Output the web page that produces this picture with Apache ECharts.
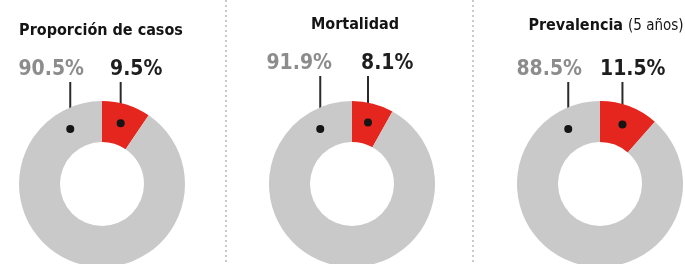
<!DOCTYPE html>
<html>
<head>
<meta charset="utf-8">
<script src="https://cdn.jsdelivr.net/npm/echarts@6/dist/echarts.min.js"></script>
<style>
html,body{margin:0;padding:0;background:#fff;}
#c{width:685px;height:264px;}
</style>
</head>
<body>
<div id="c"></div>
<script>
// ---- data ----
const titles = ['Proporción de casos', 'Mortalidad', 'Prevalencia'];
const titleNotes = ['', '', '(5 años)'];
const categories = ['Afectados', 'Resto'];
const redValues = [9.5, 8.1, 11.5];
const grayValues = [90.5, 91.9, 88.5];

// ---- layout / style ----
const W = 685, H = 264;
const centersX = [102, 352, 600];
const centerY = 184;
const rIn = 42, rOut = 83;
const titleX = [96, 350, 601];
const titleY = [29, 23, 23];
const labelY = [70, 64, 70];
const redLabelDx = [8, 9, 0];
const grayLabelDx = [-18, -20, -18];
const RED = '#e5261f', GRAY = '#c9c9c9';
const GRAY_TXT = '#8c8c8c', DARK_TXT = '#1e1e1e';
const NUM_FONT = '"DejaVu Sans Condensed", "DejaVu Sans", sans-serif';
const TTL_FONT = '"DejaVu Sans Condensed", "Liberation Sans Narrow", sans-serif';

function dotPos(i, dataIndex) {
  const total = redValues[i] + grayValues[i];
  let ang; // degrees clockwise from 12 o'clock
  if (dataIndex === 0) ang = (redValues[i] / total * 360) / 2;
  else ang = -30;
  const rm = (rIn + rOut) / 2 + 1;
  const a = ang * Math.PI / 180;
  return [centersX[i] + rm * Math.sin(a), centerY - rm * Math.cos(a)];
}

const series = [];
const title = [];
titles.forEach((t, i) => {
  const data = [
    { name: categories[0], value: redValues[i], itemStyle: { color: RED } },
    { name: categories[1], value: grayValues[i], itemStyle: { color: GRAY }, label: { color: GRAY_TXT } }
  ];
  series.push({
    type: 'pie',
    center: [centersX[i], centerY],
    radius: [rIn, rOut],
    startAngle: 90,
    clockwise: true,
    silent: true,
    avoidLabelOverlap: false,
    emphasis: { disabled: true },
    animation: false,
    data: data,
    label: {
      show: true,
      position: 'outside',
      alignTo: 'none',
      overflow: 'none',
      formatter: p => p.value.toFixed(1) + '%',
      fontFamily: NUM_FONT,
      fontWeight: 'bold',
      fontSize: 21,
      color: DARK_TXT
    },
    labelLine: { show: true, lineStyle: { color: '#2a2a2a', width: 2 } },
    labelLayout: function (p) {
      const d = dotPos(i, p.dataIndex);
      const x = p.dataIndex === 0 ? centersX[i] + redLabelDx[i] : centersX[i] + grayLabelDx[i];
      return {
        x: x,
        y: labelY[i],
        align: p.dataIndex === 0 ? 'left' : 'right',
        verticalAlign: 'middle',
        hideOverlap: false,
        moveOverlap: null,
        labelLinePoints: [[d[0], labelY[i] + 12], [d[0], (labelY[i] + 12 + d[1]) / 2], [d[0], d[1]]]
      };
    }
  });
  // dots at the end of the leader lines
  series.push({
    type: 'pie',
    center: [centersX[i], centerY],
    radius: [rIn, rOut],
    startAngle: 90,
    clockwise: true,
    silent: true,
    avoidLabelOverlap: false,
    emphasis: { disabled: true },
    animation: false,
    z: 5,
    data: [
      { name: categories[0], value: redValues[i] },
      { name: categories[1], value: grayValues[i] }
    ],
    itemStyle: { color: 'rgba(0,0,0,0)' },
    label: {
      show: true,
      position: 'inside',
      formatter: '{d|}',
      rich: { d: { width: 8, height: 8, borderRadius: 4, backgroundColor: '#151515' } }
    },
    labelLine: { show: false },
    labelLayout: function (p) {
      const d = dotPos(i, p.dataIndex);
      return { x: d[0], y: d[1], align: 'center', verticalAlign: 'middle', hideOverlap: false };
    }
  });
  title.push({
    text: titleNotes[i] ? '{b|' + t + '} {n|' + titleNotes[i] + '}' : '{b|' + t + '}',
    left: titleX[i],
    top: titleY[i] - 11,
    textAlign: 'center',
    textStyle: {
      rich: {
        b: { fontFamily: TTL_FONT, fontWeight: 'bold', fontSize: 16, color: '#141414' },
        n: { fontFamily: TTL_FONT, fontWeight: 'normal', fontSize: 15, color: '#141414' }
      }
    }
  });
});

const sepX = [226, 473];
const graphic = sepX.map(x => ({
  type: 'line',
  shape: { x1: x, y1: 0, x2: x, y2: H },
  style: { stroke: '#b9b9b9', lineWidth: 1.5, lineDash: [2, 3] },
  silent: true
}));

const chart = echarts.init(document.getElementById('c'), null, { renderer: 'canvas' });
chart.setOption({
  backgroundColor: '#ffffff',
  animation: false,
  title: title,
  graphic: graphic,
  series: series
});
</script>
</body>
</html>
